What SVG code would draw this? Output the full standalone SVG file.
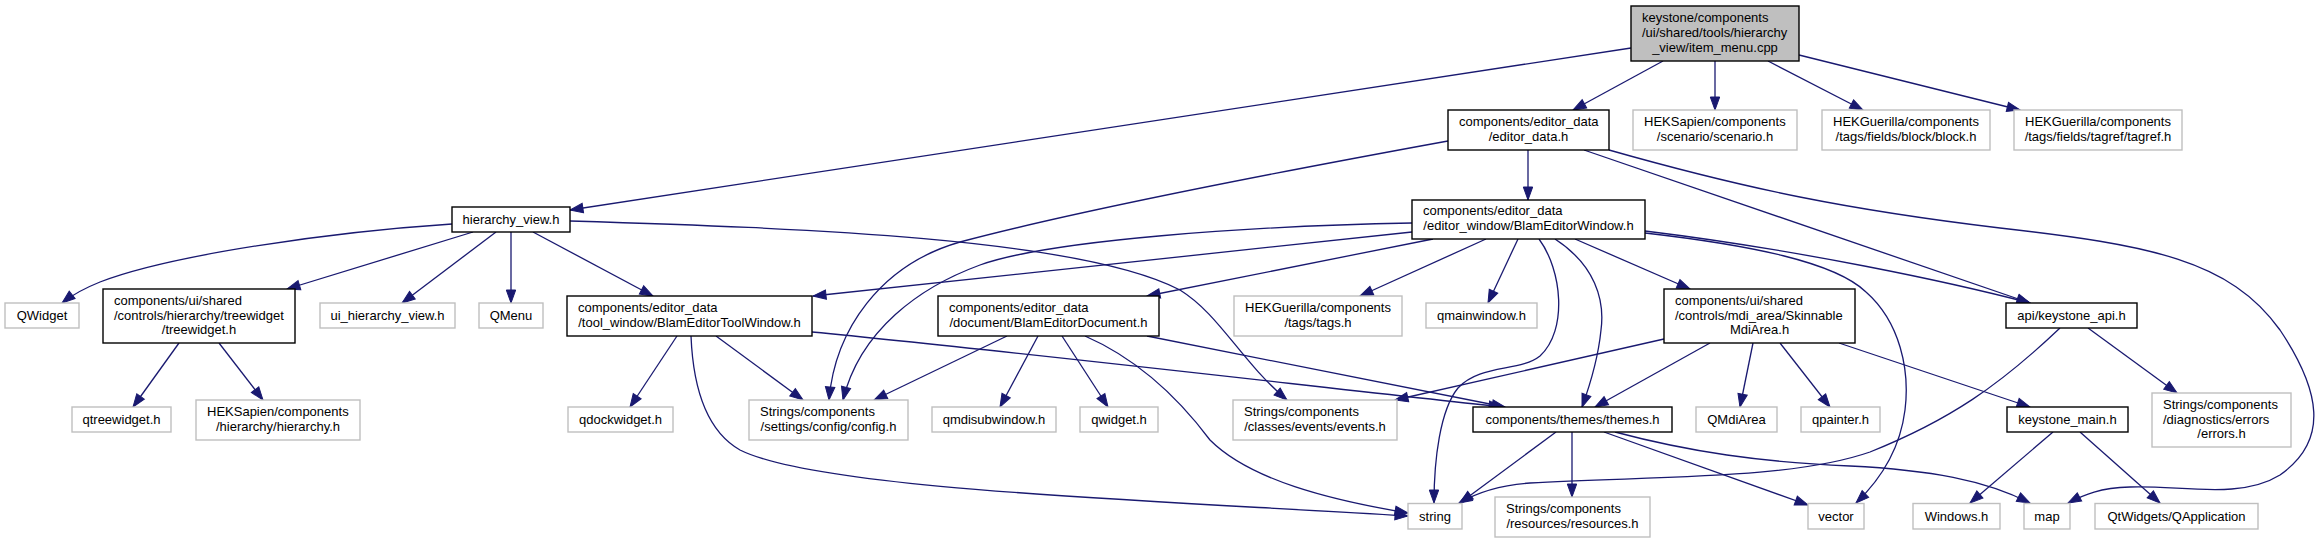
<svg xmlns="http://www.w3.org/2000/svg" width="2319" height="543" viewBox="0 0 2319 543">
<defs>
<marker id="arr" markerUnits="userSpaceOnUse" markerWidth="14" markerHeight="10" refX="13" refY="4.7" orient="auto" overflow="visible"><path d="M0,0 L13,4.7 L0,9.4 Z" fill="#191970" stroke="#191970" stroke-width="1"/></marker>
</defs>
<style>
rect{fill:#ffffff;stroke:#000000;stroke-width:1.4}
.x rect{stroke:#bfbfbf}
.main rect{fill:#bfbfbf}
text{font-family:"Liberation Sans",Arial,sans-serif;font-size:13px;fill:#000000}
.m{text-anchor:middle}
#edges path{fill:none;stroke:#191970;stroke-width:1.3;marker-end:url(#arr)}
</style>
<rect x="0" y="0" width="2319" height="543" style="fill:#ffffff;stroke:none"/>
<g id="edges">
<path d="M1631,48 L570,210"/>
<path d="M1663,61 L1573,110"/>
<path d="M1715,61 L1715,110"/>
<path d="M1768,61 L1863,110"/>
<path d="M1799,55 L2020,110"/>
<path d="M452,224 C330,232 170,255 100,282 C85,288 72,295 62,303"/>
<path d="M473,232 L287,289"/>
<path d="M496,232 L402,303"/>
<path d="M511,232 L511,303"/>
<path d="M533,232 L653,296"/>
<path d="M570,221 C800,228 1080,238 1180,290 C1220,315 1240,360 1287,400"/>
<path d="M1528,150 L1528,200"/>
<path d="M1448,141 C1300,168 1080,210 960,242 C880,265 835,330 829,400"/>
<path d="M1584,150 L2030,303"/>
<path d="M1609,150 C1750,190 1850,210 2000,228 C2150,245 2230,260 2280,330 C2320,390 2330,440 2280,475 C2240,500 2180,485 2130,487 C2100,488 2085,494 2068,503"/>
<path d="M1412,232 L813,296"/>
<path d="M1412,223 C1250,226 1050,240 980,265 C920,287 860,330 843,400"/>
<path d="M1433,239 L1147,296"/>
<path d="M1486,239 L1360,296"/>
<path d="M1518,239 L1488,303"/>
<path d="M1539,239 C1562,270 1568,330 1540,356 C1520,372 1480,364 1458,388 C1440,410 1434,460 1434,503"/>
<path d="M1555,239 C1595,265 1605,300 1601,330 C1598,360 1590,385 1582,407"/>
<path d="M1575,239 L1690,289"/>
<path d="M1645,233 C1750,245 1835,262 1866,292 C1900,322 1910,370 1905,410 C1900,450 1880,480 1856,503"/>
<path d="M1645,231 C1800,250 1950,282 2030,303"/>
<path d="M179,343 L133,407"/>
<path d="M219,343 L263,400"/>
<path d="M677,336 L630,407"/>
<path d="M716,336 L803,400"/>
<path d="M691,336 C693,385 705,430 740,450 C820,490 1150,500 1408,516"/>
<path d="M812,332 C1000,350 1300,385 1502,407"/>
<path d="M1007,336 L874,400"/>
<path d="M1038,336 L1000,407"/>
<path d="M1062,336 L1108,407"/>
<path d="M1085,336 C1140,360 1180,400 1210,440 C1250,480 1330,500 1408,513"/>
<path d="M1147,336 L1505,407"/>
<path d="M1664,339 L1395,400"/>
<path d="M1710,343 L1595,407"/>
<path d="M1753,343 L1740,407"/>
<path d="M1780,343 L1830,407"/>
<path d="M1839,343 L2030,407"/>
<path d="M1556,432 L1460,503"/>
<path d="M1572,432 L1572,497"/>
<path d="M1604,432 L1808,505"/>
<path d="M1615,432 C1690,452 1760,462 1850,466 C1930,470 1985,480 2030,503"/>
<path d="M2060,328 C2000,385 1950,420 1870,452 C1790,480 1650,476 1530,483 C1500,485 1478,492 1459,503"/>
<path d="M2088,328 L2177,393"/>
<path d="M2053,432 L1970,503"/>
<path d="M2080,432 L2160,503"/>
</g>
<g id="n_main" class="main"><rect x="1631" y="6" width="168" height="55"/><text x="1642" y="22">keystone/components</text><text x="1642" y="37">/ui/shared/tools/hierarchy</text><text class="m" x="1715" y="51.5">_view/item_menu.cpp</text></g>
<g id="n_editor_data"><rect x="1448" y="110" width="161" height="40"/><text x="1459" y="126">components/editor_data</text><text class="m" x="1528.5" y="141">/editor_data.h</text></g>
<g id="n_scenario" class="x"><rect x="1633" y="110" width="164" height="40"/><text x="1644" y="126">HEKSapien/components</text><text class="m" x="1715" y="141">/scenario/scenario.h</text></g>
<g id="n_block" class="x"><rect x="1822" y="110" width="168" height="40"/><text x="1833" y="126">HEKGuerilla/components</text><text class="m" x="1906" y="141">/tags/fields/block/block.h</text></g>
<g id="n_tagref" class="x"><rect x="2014" y="110" width="168" height="40"/><text x="2025" y="126">HEKGuerilla/components</text><text class="m" x="2098" y="141">/tags/fields/tagref/tagref.h</text></g>
<g id="n_hierarchy_view"><rect x="452" y="207" width="118" height="25"/><text class="m" x="511" y="224">hierarchy_view.h</text></g>
<g id="n_editor_window"><rect x="1412" y="200" width="233" height="39"/><text x="1423" y="215">components/editor_data</text><text class="m" x="1528.5" y="230">/editor_window/BlamEditorWindow.h</text></g>
<g id="n_qwidget_cap" class="x"><rect x="5" y="303" width="74" height="25"/><text class="m" x="42" y="320">QWidget</text></g>
<g id="n_treewidget"><rect x="103" y="289" width="192" height="54"/><text x="114" y="305">components/ui/shared</text><text x="114" y="319.5">/controls/hierarchy/treewidget</text><text class="m" x="199" y="334">/treewidget.h</text></g>
<g id="n_ui_hierarchy_view" class="x"><rect x="320" y="303" width="135" height="25"/><text class="m" x="387.5" y="320">ui_hierarchy_view.h</text></g>
<g id="n_qmenu" class="x"><rect x="479" y="303" width="64" height="25"/><text class="m" x="511" y="320">QMenu</text></g>
<g id="n_toolwindow"><rect x="567" y="296" width="245" height="40"/><text x="578" y="312">components/editor_data</text><text class="m" x="689.5" y="327">/tool_window/BlamEditorToolWindow.h</text></g>
<g id="n_document"><rect x="938" y="296" width="221" height="40"/><text x="949" y="312">components/editor_data</text><text class="m" x="1048.5" y="327">/document/BlamEditorDocument.h</text></g>
<g id="n_tags" class="x"><rect x="1234" y="296" width="168" height="40"/><text x="1245" y="312">HEKGuerilla/components</text><text class="m" x="1318" y="327">/tags/tags.h</text></g>
<g id="n_qmainwindow" class="x"><rect x="1426" y="303" width="111" height="25"/><text class="m" x="1481.5" y="320">qmainwindow.h</text></g>
<g id="n_mdiarea"><rect x="1664" y="289" width="191" height="54"/><text x="1675" y="305">components/ui/shared</text><text x="1675" y="319.5">/controls/mdi_area/Skinnable</text><text class="m" x="1759.5" y="334">MdiArea.h</text></g>
<g id="n_keystone_api"><rect x="2006" y="303" width="131" height="25"/><text class="m" x="2071.5" y="320">api/keystone_api.h</text></g>
<g id="n_qtreewidget" class="x"><rect x="72" y="407" width="99" height="25"/><text class="m" x="121.5" y="424">qtreewidget.h</text></g>
<g id="n_hierarchy" class="x"><rect x="196" y="400" width="164" height="40"/><text x="207" y="416">HEKSapien/components</text><text class="m" x="278" y="431">/hierarchy/hierarchy.h</text></g>
<g id="n_qdockwidget" class="x"><rect x="568" y="407" width="105" height="25"/><text class="m" x="620.5" y="424">qdockwidget.h</text></g>
<g id="n_config" class="x"><rect x="749" y="400" width="159" height="40"/><text x="760" y="416">Strings/components</text><text class="m" x="828.5" y="431">/settings/config/config.h</text></g>
<g id="n_qmdisubwindow" class="x"><rect x="932" y="407" width="124" height="25"/><text class="m" x="994" y="424">qmdisubwindow.h</text></g>
<g id="n_qwidget" class="x"><rect x="1080" y="407" width="78" height="25"/><text class="m" x="1119" y="424">qwidget.h</text></g>
<g id="n_events" class="x"><rect x="1233" y="400" width="164" height="40"/><text x="1244" y="416">Strings/components</text><text class="m" x="1315" y="431">/classes/events/events.h</text></g>
<g id="n_themes"><rect x="1473" y="407" width="199" height="25"/><text class="m" x="1572.5" y="424">components/themes/themes.h</text></g>
<g id="n_qmdiarea" class="x"><rect x="1696" y="407" width="81" height="25"/><text class="m" x="1736.5" y="424">QMdiArea</text></g>
<g id="n_qpainter" class="x"><rect x="1801" y="407" width="79" height="25"/><text class="m" x="1840.5" y="424">qpainter.h</text></g>
<g id="n_keystone_main"><rect x="2007" y="407" width="121" height="25"/><text class="m" x="2067.5" y="424">keystone_main.h</text></g>
<g id="n_errors" class="x"><rect x="2152" y="393" width="139" height="54"/><text x="2163" y="409">Strings/components</text><text x="2163" y="423.5">/diagnostics/errors</text><text class="m" x="2221.5" y="438">/errors.h</text></g>
<g id="n_string" class="x"><rect x="1408" y="503.5" width="54" height="25.5"/><text class="m" x="1435" y="520.5">string</text></g>
<g id="n_resources" class="x"><rect x="1495" y="497" width="155" height="40"/><text x="1506" y="513">Strings/components</text><text class="m" x="1572.5" y="528">/resources/resources.h</text></g>
<g id="n_vector" class="x"><rect x="1808" y="503.5" width="56" height="25.5"/><text class="m" x="1836" y="520.5">vector</text></g>
<g id="n_windows" class="x"><rect x="1913" y="503.5" width="87" height="25.5"/><text class="m" x="1956.5" y="520.5">Windows.h</text></g>
<g id="n_map" class="x"><rect x="2024" y="503.5" width="46" height="25.5"/><text class="m" x="2047" y="520.5">map</text></g>
<g id="n_qapplication" class="x"><rect x="2095" y="503.5" width="163" height="25.5"/><text class="m" x="2176.5" y="520.5">QtWidgets/QApplication</text></g>
</svg>
